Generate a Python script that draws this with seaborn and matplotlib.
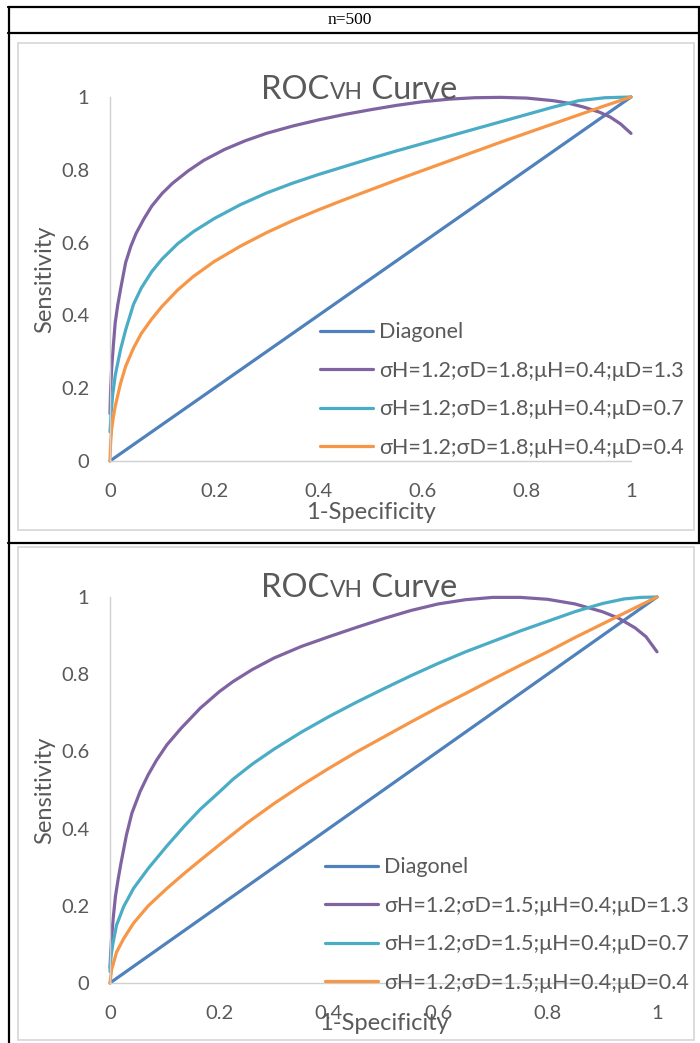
import numpy as np
import pandas as pd
import matplotlib
matplotlib.use("Agg")
import matplotlib.pyplot as plt
import seaborn as sns
from matplotlib.lines import Line2D
from matplotlib.patches import Rectangle
from matplotlib.offsetbox import TextArea, HPacker, AnnotationBbox

# ---------------- data ----------------
header = "n=500"
tick_vals = [0, 0.2, 0.4, 0.6, 0.8, 1]
tick_labels = ["0", "0.2", "0.4", "0.6", "0.8", "1"]

diag_x = [0, 1]
diag_y = [0, 1]

# Panel 1 : sigmaD = 1.8
p1_labels = ["Diagonel",
             "σH=1.2;σD=1.8;μH=0.4;μD=1.3",
             "σH=1.2;σD=1.8;μH=0.4;μD=0.7",
             "σH=1.2;σD=1.8;μH=0.4;μD=0.4"]
p1_purple_x = [0, 0.001, 0.003, 0.006, 0.01, 0.015, 0.02, 0.03, 0.04, 0.05, 0.065, 0.08, 0.1,
               0.12, 0.15, 0.18, 0.22, 0.26, 0.30, 0.35, 0.40, 0.45, 0.50, 0.55, 0.60, 0.65,
               0.70, 0.75, 0.80, 0.85, 0.88, 0.91, 0.94, 0.96, 0.98, 1.0]
p1_purple_y = [0.13, 0.19, 0.25, 0.31, 0.38, 0.43, 0.47, 0.545, 0.59, 0.625, 0.665, 0.70, 0.735,
               0.763, 0.797, 0.826, 0.856, 0.88, 0.90, 0.92, 0.937, 0.952, 0.965, 0.977, 0.987,
               0.994, 0.998, 0.999, 0.997, 0.99, 0.983, 0.972, 0.958, 0.945, 0.926, 0.90]
p1_cyan_x = [0, 0.002, 0.005, 0.01, 0.02, 0.03, 0.045, 0.06, 0.08, 0.1, 0.13, 0.16, 0.2, 0.25,
             0.3, 0.35, 0.4, 0.45, 0.5, 0.55, 0.6, 0.65, 0.7, 0.75, 0.8, 0.85, 0.9, 0.95, 1.0]
p1_cyan_y = [0.08, 0.13, 0.18, 0.235, 0.305, 0.36, 0.43, 0.475, 0.52, 0.555, 0.597, 0.63, 0.666,
             0.704, 0.736, 0.763, 0.787, 0.809, 0.831, 0.852, 0.872, 0.892, 0.912, 0.932, 0.952,
             0.972, 0.99, 0.998, 1.0]
p1_orange_x = [0, 0.001, 0.003, 0.006, 0.01, 0.02, 0.03, 0.045, 0.06, 0.08, 0.1, 0.13, 0.16, 0.2,
               0.25, 0.3, 0.35, 0.4, 0.45, 0.5, 0.55, 0.6, 0.65, 0.7, 0.75, 0.8, 0.85, 0.9, 0.95,
               1.0]
p1_orange_y = [0, 0.045, 0.085, 0.117, 0.15, 0.212, 0.26, 0.31, 0.35, 0.39, 0.425, 0.47, 0.507,
               0.548, 0.59, 0.627, 0.66, 0.69, 0.718, 0.745, 0.772, 0.798, 0.824, 0.85, 0.876,
               0.901, 0.926, 0.951, 0.976, 1.0]

# Panel 2 : sigmaD = 1.5
p2_labels = ["Diagonel",
             "σH=1.2;σD=1.5;μH=0.4;μD=1.3",
             "σH=1.2;σD=1.5;μH=0.4;μD=0.7",
             "σH=1.2;σD=1.5;μH=0.4;μD=0.4"]
p2_purple_x = [0, 0.001, 0.003, 0.006, 0.01, 0.015, 0.02, 0.03, 0.04, 0.055, 0.07, 0.085, 0.104,
               0.13, 0.165, 0.2, 0.225, 0.26, 0.3, 0.35, 0.4, 0.45, 0.5, 0.55, 0.6, 0.65, 0.7,
               0.75, 0.8, 0.85, 0.9, 0.93, 0.96, 0.98, 1.0]
p2_purple_y = [0.04, 0.07, 0.12, 0.17, 0.225, 0.27, 0.31, 0.383, 0.44, 0.496, 0.54, 0.577, 0.617,
               0.66, 0.712, 0.755, 0.781, 0.812, 0.842, 0.872, 0.897, 0.921, 0.944, 0.965, 0.982,
               0.993, 0.999, 0.999, 0.994, 0.982, 0.962, 0.945, 0.92, 0.897, 0.858]
p2_cyan_x = [0, 0.002, 0.005, 0.012, 0.025, 0.043, 0.07, 0.104, 0.135, 0.165, 0.2, 0.225, 0.26,
             0.3, 0.35, 0.4, 0.45, 0.5, 0.55, 0.6, 0.65, 0.7, 0.75, 0.8, 0.85, 0.9, 0.94, 0.97,
             1.0]
p2_cyan_y = [0.03, 0.07, 0.1, 0.15, 0.198, 0.245, 0.297, 0.355, 0.405, 0.45, 0.495, 0.528, 0.567,
             0.606, 0.65, 0.69, 0.727, 0.762, 0.796, 0.828, 0.858, 0.885, 0.912, 0.937, 0.962,
             0.983, 0.995, 0.999, 1.0]
p2_orange_x = [0, 0.003, 0.012, 0.025, 0.043, 0.07, 0.104, 0.135, 0.165, 0.2, 0.25, 0.3, 0.35,
               0.4, 0.45, 0.5, 0.55, 0.6, 0.65, 0.7, 0.75, 0.8, 0.85, 0.9, 0.95, 1.0]
p2_orange_y = [0, 0.035, 0.08, 0.115, 0.155, 0.2, 0.245, 0.283, 0.318, 0.358, 0.414, 0.465, 0.512,
               0.556, 0.598, 0.637, 0.676, 0.714, 0.75, 0.787, 0.823, 0.858, 0.895, 0.93, 0.965,
               1.0]

colors = ["#4F81BD", "#8064A2", "#4BACC6", "#F79646"]
TXT = "#595959"

# ---------------- drawing ----------------
sns.set_style("white")
plt.rcParams['font.family'] = ['Lato', 'DejaVu Sans']

W, H = 700, 1043
fig = plt.figure(figsize=(W / 100, H / 100), dpi=100)


def fx(px):
    return px / W


def fy(py):
    return 1 - py / H


def hline(y, x0, x1, color="black", lw=1.6):
    fig.add_artist(Line2D([fx(x0), fx(x1)], [fy(y), fy(y)], color=color, lw=lw))


def vline(x, y0, y1, color="black", lw=1.6):
    fig.add_artist(Line2D([fx(x), fx(x)], [fy(y0), fy(y1)], color=color, lw=lw))


# table borders
hline(7, 8, 700)
hline(33, 8, 700)
hline(543, 8, 700)
vline(8.5, 7, 1043)
vline(699, 7, 543)

# chart frames
for (y0, y1) in [(43, 530), (547, 1040)]:
    fig.add_artist(Rectangle((fx(18), fy(y1)), fx(694) - fx(18), fy(y0) - fy(y1),
                             fill=False, edgecolor="#d9d9d9", lw=1.3))

fig.text(fx(350), fy(20), header, family="Liberation Serif", size=12.5,
         ha="center", va="center", color="black")


def panel(rect, series, labels, title_xy, ylab_x, xlab_y, legend_xy):
    x0, x1, yb, yt = rect
    ax = fig.add_axes([fx(x0), fy(yb), fx(x1) - fx(x0), fy(yt) - fy(yb)])
    ax.set_facecolor("none")
    for (xs, ys), c, lab in zip(series, colors, labels):
        df = pd.DataFrame({"x": xs, "y": ys})
        sns.lineplot(data=df, x="x", y="y", color=c, lw=2.3, ax=ax, sort=False,
                     estimator=None, label=lab, clip_on=False,
                     solid_capstyle="round", solid_joinstyle="round")
    ax.set_xlim(0, 1)
    ax.set_ylim(0, 1)
    ax.set_xticks(tick_vals)
    ax.set_xticklabels(tick_labels)
    ax.set_yticks(tick_vals)
    ax.set_yticklabels(tick_labels)
    ax.tick_params(axis="x", length=0, pad=16, labelsize=14.5, labelcolor=TXT)
    ax.tick_params(axis="y", length=0, pad=15, labelsize=14.5, labelcolor=TXT)
    for s in ["top", "right"]:
        ax.spines[s].set_visible(False)
    for s in ["left", "bottom"]:
        ax.spines[s].set_color("#d0d0d0")
        ax.spines[s].set_linewidth(1.0)
    ax.set_xlabel("1-Specificity", fontsize=17, color=TXT)
    ax.set_ylabel("Sensitivity", fontsize=17, color=TXT)
    ax.xaxis.set_label_coords(0.5, xlab_y)
    ax.yaxis.set_label_coords(ylab_x, 0.5)
    handles, labs = ax.get_legend_handles_labels()
    leg = ax.legend(handles, labs, loc="center left",
                    bbox_to_anchor=(fx(legend_xy[0]), fy(legend_xy[1])),
                    bbox_transform=fig.transFigure, frameon=False, fontsize=15.5,
                    handlelength=2.45, handletextpad=0.3, labelspacing=0.86,
                    borderpad=0, borderaxespad=0)
    for t in leg.get_texts():
        t.set_color(TXT)
    # title "ROC" + small-caps "VH" + " Curve"
    parts = [TextArea("ROC", textprops=dict(size=23.5, color=TXT)),
             TextArea("VH", textprops=dict(size=16.5, color=TXT)),
             TextArea(" Curve", textprops=dict(size=23.5, color=TXT))]
    box = HPacker(children=parts, align="baseline", pad=0, sep=0)
    ab = AnnotationBbox(box, (fx(title_xy[0]), fy(title_xy[1])), xycoords="figure fraction",
                        box_alignment=(0.5, 0.5), frameon=False, zorder=10)
    fig.add_artist(ab)
    return ax


panel((110, 631, 461, 97),
      [(diag_x, diag_y), (p1_purple_x, p1_purple_y), (p1_cyan_x, p1_cyan_y),
       (p1_orange_x, p1_orange_y)],
      p1_labels, (359, 90), -0.106, -0.113, (320, 390))

panel((110, 657, 983, 597),
      [(diag_x, diag_y), (p2_purple_x, p2_purple_y), (p2_cyan_x, p2_cyan_y),
       (p2_orange_x, p2_orange_y)],
      p2_labels, (359, 588), -0.100, -0.078, (325, 925))

fig.savefig("out.png", dpi=100)
